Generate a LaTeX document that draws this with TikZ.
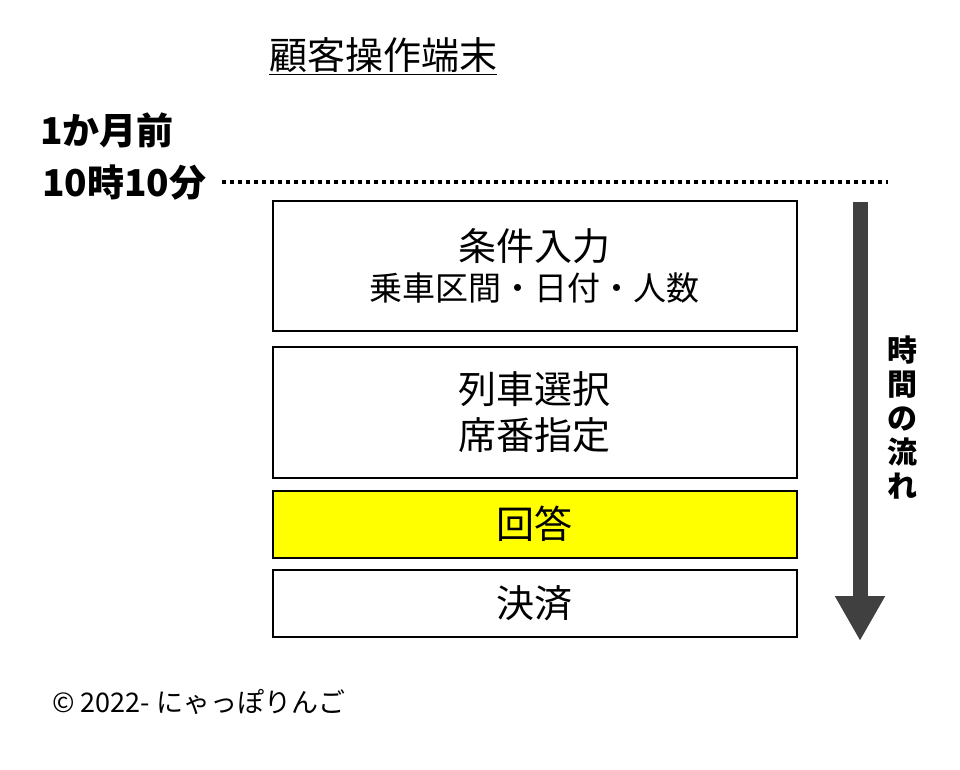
\documentclass[tikz,border=0pt]{standalone}
\usepackage{fontspec}
\setmainfont{Noto Sans CJK JP}
\usetikzlibrary{arrows.meta}
\definecolor{yel}{RGB}{255,255,0}
\begin{document}
\begin{tikzpicture}[x=1pt,y=-1pt,
  stepbox/.style={draw=black,line width=1.5pt,minimum width=524pt,anchor=north west,inner sep=0pt,align=center,font=\fontsize{38}{50}\selectfont},
  lbl/.style={font=\fontsize{37}{40}\selectfont\bfseries,anchor=west,inner sep=0pt}]
\useasboundingbox (0,0) rectangle (960,770);
\node[font=\fontsize{38}{40}\selectfont,inner sep=0pt] (title) at (383,56) {\underline{顧客操作端末}};
\node[lbl] (m) at (40,130) {1か月前};
\node[lbl] (t) at (42,183) {10時10分};
\coordinate (d1) at (222,182);
\coordinate (d2) at (888,182);
\draw[line width=3.5pt,dash pattern=on 3.5pt off 4.5pt] (d1) -- (d2);
\node[stepbox,minimum height=130pt] (b1) at (272,200) {条件入力\\[-10pt]{\fontsize{33}{40}\selectfont 乗車区間・日付・人数}};
\node[stepbox,minimum height=131pt] (b2) at (272,346) {列車選択\\[-4pt]席番指定};
\node[stepbox,minimum height=67pt,fill=yel] (b3) at (272,490) {回答};
\node[stepbox,minimum height=67pt] (b4) at (272,569) {決済};
\coordinate (a1) at (860,202);
\coordinate (a2) at (860,641);
\draw[line width=15pt,draw=black!75,-{Triangle[length=45pt,width=47pt]}] (a1) -- (a2);
\node[font=\fontsize{30}{34}\selectfont\bfseries,align=center,inner sep=0pt] (v) at (902,418) {時\\間\\の\\流\\れ};
\node[font=\fontsize{27}{30}\selectfont,anchor=west,inner sep=0pt] (c) at (52,702) {© 2022- にゃっぽりんご};
\end{tikzpicture}
\end{document}
